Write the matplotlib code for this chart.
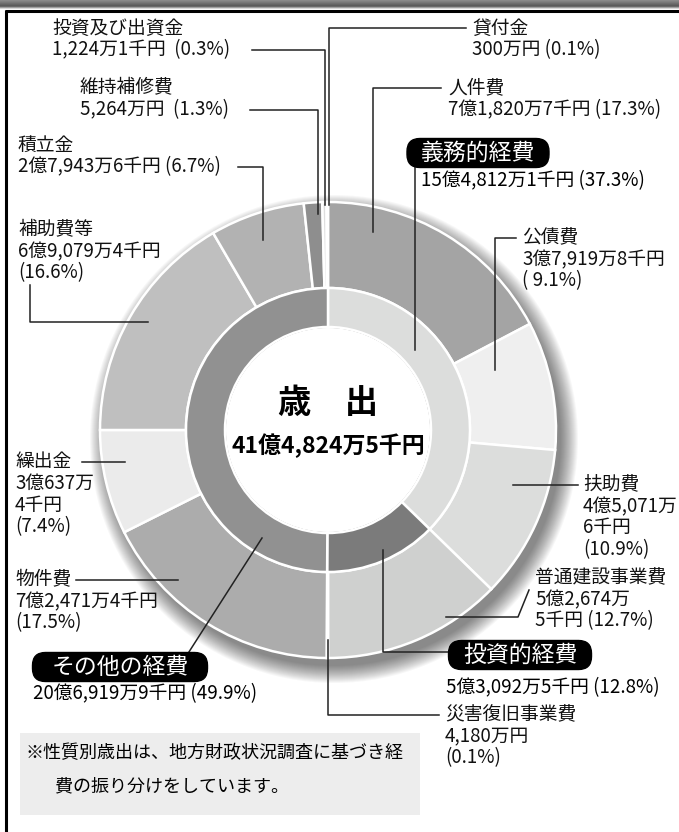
import matplotlib.pyplot as plt
import numpy as np
from matplotlib.patches import Circle, Rectangle, FancyBboxPatch

plt.rcParams['font.family'] = ['Noto Sans CJK JP', 'DejaVu Sans']

# outer ring: items, clockwise from top
items = ["人件費", "公債費", "扶助費", "普通建設事業費", "災害復旧事業費", "物件費",
         "繰出金", "補助費等", "積立金", "維持補修費", "投資及び出資金", "貸付金"]
item_amounts = ["7億1,820万7千円", "3億7,919万8千円", "4億5,071万6千円", "5億2,674万5千円",
                "4,180万円", "7億2,471万4千円", "3億637万4千円", "6億9,079万4千円",
                "2億7,943万6千円", "5,264万円", "1,224万1千円", "300万円"]
item_shares = [17.3, 9.1, 10.9, 12.7, 0.1, 17.5, 7.4, 16.6, 6.7, 1.3, 0.3, 0.1]
item_colors = ["#a4a4a4", "#efefef", "#dcdddc", "#cfd0cf", "#d8d8d8", "#acacac",
               "#ebebeb", "#bfbfbf", "#b2b2b2", "#8e8e8e", "#dedede", "#f2f2f2"]

# inner ring: groups
groups = ["義務的経費", "投資的経費", "その他の経費"]
group_amounts = ["15億4,812万1千円", "5億3,092万5千円", "20億6,919万9千円"]
group_shares = [37.3, 12.8, 49.9]
group_colors = ["#dcdddc", "#7b7b7b", "#919191"]

total_label = "41億4,824万5千円"

W, H = 679, 832
CX, CY = 328, 430
R_OUT, R_MID, R_IN = 228, 142, 103

fig = plt.figure(figsize=(W / 100, H / 100), dpi=100)
ax = fig.add_axes([0, 0, 1, 1])

# top bar
grad = np.concatenate([np.linspace(0.55, 0.35, 12), np.linspace(0.35, 0.9, 6)]).reshape(-1, 1)
ax.imshow(grad, cmap="gray", vmin=0, vmax=1, extent=[0, W, 9, 0], aspect="auto", zorder=0)

# pie shadow
for i in range(18):
    ax.add_patch(Circle((CX + 6, CY + 9), R_OUT + 16 - i, color="black", alpha=0.03,
                        lw=0, zorder=1))

ax.pie(item_shares, radius=R_OUT, center=(CX, CY), startangle=-90, counterclock=True,
       colors=item_colors, wedgeprops=dict(width=R_OUT - R_MID, edgecolor="white", linewidth=1.8))
ax.pie(group_shares, radius=R_MID, center=(CX, CY), startangle=-90, counterclock=True,
       colors=group_colors, wedgeprops=dict(width=R_MID - R_IN, edgecolor="white", linewidth=1.8))
ax.add_patch(Circle((CX, CY), R_IN - 1, color="white", lw=0, zorder=5))

ax.set_xlim(0, W)
ax.set_ylim(H, 0)
ax.axis("off")

# frame
ax.plot([5, W], [10.5, 10.5], color="black", lw=2.2, solid_capstyle="butt")
ax.plot([5.5, 5.5], [10, H], color="black", lw=2.2, solid_capstyle="butt")

FS = 13.5
LH = 21.5


def label(x, y, lines, ha="left"):
    for k, s in enumerate(lines):
        ax.text(x, y + k * LH, s, fontsize=FS, ha=ha, va="center", color="#111111")


def leader(xs, ys):
    ax.plot(xs, ys, color="#222222", lw=1.1, zorder=6)


def badge(x, y, w, s):
    h = 29
    ax.add_patch(FancyBboxPatch((x - w / 2, y - h / 2), w, h,
                                boxstyle="round,pad=0,rounding_size=13",
                                fc="black", ec="black", zorder=8))
    ax.text(x, y, s, fontsize=16.5, ha="center", va="center", color="white", zorder=9)


def amt(i):
    return f"{item_amounts[i]} ({item_shares[i]}%)"


# labels for items
label(52, 28, [items[10], f"{item_amounts[10]}  ({item_shares[10]}%)"])
leader([252, 325, 325], [50, 50, 205])
label(472, 28, [items[11], f"{item_amounts[11]} ({item_shares[11]}%)"])
leader([466, 329, 329], [28, 28, 205])
label(80, 88, [items[9], f"{item_amounts[9]}  ({item_shares[9]}%)"])
leader([250, 318, 318], [110, 110, 214])
label(448, 88, [items[0], amt(0)])
leader([441, 373, 373], [88, 88, 232])
label(18, 145, [items[8], amt(8)])
leader([238, 263, 263], [167, 167, 240])
label(18, 230, [items[7], "6億9,079万4千円", f"({item_shares[7]}%)"])
leader([30, 30, 148], [285, 322, 322])
label(522, 238, [items[1], item_amounts[1], f"( {item_shares[1]}%)"])
leader([516, 495, 495], [238, 238, 370])
label(15, 462, [items[6], "3億637万", "4千円", f"({item_shares[6]}%)"])
leader([82, 125], [462, 462])
label(583, 485, [items[2], "4億5,071万", "6千円", f"({item_shares[2]}%)"])
leader([578, 513], [485, 485])
label(535, 578, [items[3], "5億2,674万", f"5千円 ({item_shares[3]}%)"])
leader([529, 518, 446], [590, 617, 617])
label(15, 580, [items[5], item_amounts[5], f"({item_shares[5]}%)"])
leader([76, 178], [580, 580])
label(445, 715, [items[4], item_amounts[4], f"({item_shares[4]}%)"])
leader([328, 328, 439], [640, 715, 715])

# group badges
badge(478, 153, 142, groups[0])
ax.text(421, 181, f"{group_amounts[0]} ({group_shares[0]}%)", fontsize=FS, va="center")
leader([415, 415], [165, 350])
badge(520, 655, 143, groups[1])
ax.text(446, 688, f"{group_amounts[1]} ({group_shares[1]}%)", fontsize=FS, va="center")
leader([383, 383, 452], [550, 652, 652])
badge(120, 667, 175, groups[2])
ax.text(33, 694, f"{group_amounts[2]} ({group_shares[2]}%)", fontsize=FS, va="center")
leader([262, 187], [538, 655])

# center text
ax.text(CX, 404, "歳　出", fontsize=24, fontweight="bold", ha="center", va="center", zorder=7)
ax.text(CX, 446, total_label, fontsize=16.5, fontweight="bold", ha="center", va="center", zorder=7)

# note box
ax.add_patch(Rectangle((20, 733), 400, 82, color="#ededed", lw=0, zorder=2))
ax.text(25, 753, "※性質別歳出は、地方財政状況調査に基づき経", fontsize=13, va="center", zorder=3)
ax.text(55, 786, "費の振り分けをしています。", fontsize=13, va="center", zorder=3)

fig.savefig("out.png", dpi=100)
